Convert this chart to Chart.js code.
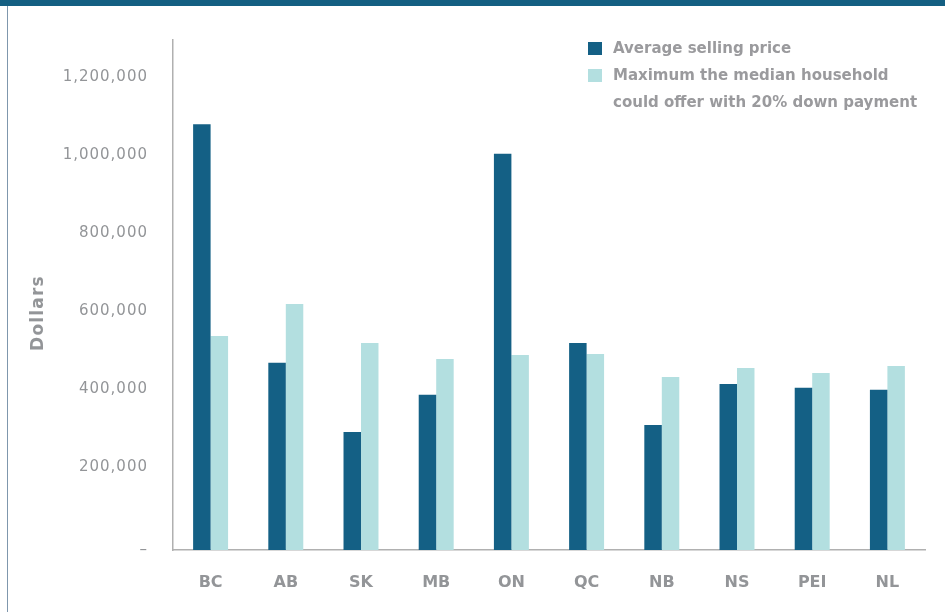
<!DOCTYPE html>
<html>
<head>
<meta charset="utf-8">
<script src="https://cdn.jsdelivr.net/npm/chart.js@4.4.1/dist/chart.umd.min.js"></script>
<style>
  html, body { margin: 0; padding: 0; background: #fff; }
  #wrap { position: relative; width: 945px; height: 612px; overflow: hidden; }
  #topBand { position: absolute; left: 0; top: 0; width: 945px; height: 6px; background: #145f82; }
  #leftRule { position: absolute; left: 7px; top: 6px; width: 1px; height: 606px; background: #7f97ad; }
  #chart { position: absolute; left: 0; top: 0; }
  #legend {
    position: absolute; left: 588px; top: 35px;
    font: bold 15px "DejaVu Sans", sans-serif; color: #9a9a9d; line-height: 27px;
  }
  .item { position: relative; padding-left: 25px; }
  .swatch { position: absolute; left: 0; top: 7px; width: 14px; height: 13px; }
</style>
</head>
<body>
<div id="wrap">
  <div id="topBand"></div>
  <div id="leftRule"></div>
  <canvas id="chart" width="945" height="612"></canvas>
  <div id="legend"></div>
</div>
<script>
const provinces = ['BC', 'AB', 'SK', 'MB', 'ON', 'QC', 'NB', 'NS', 'PEI', 'NL'];
const averageSellingPrice = [1079000, 467000, 290000, 385000, 1003000, 518000, 308000, 413000, 403000, 398000];
const maxMedianOffer = [536000, 618000, 518000, 477000, 487000, 490000, 431000, 454000, 441000, 459000];
const seriesLabels = [
    ['Average selling price'],
    ['Maximum the median household', 'could offer with 20% down payment'],
];
const tickValues = [0, 200000, 400000, 600000, 800000, 1000000, 1200000];

// axis runs a little below zero so the baseline sits under the "–" label
const Y_MIN = -12820;
const Y_MAX = 1294900;

const darkBlue = '#146085';
const paleTeal = '#b3dfe0';
const textGrey = '#939598';

const numberFormat = (value) => value.toLocaleString('en-US');

const spacedTicks = {
    id: 'spacedTicks',
    beforeDraw: (chart) => { chart.ctx.letterSpacing = '1px'; },
    beforeDatasetsDraw: (chart) => { chart.ctx.letterSpacing = '0px'; },
};

const sideTitle = {
    id: 'sideTitle',
    afterDraw: (chart) => {
        const ctx = chart.ctx;
        ctx.save();
        ctx.letterSpacing = '1.2px';
        ctx.translate(39, 313);
        ctx.rotate(-Math.PI / 2);
        ctx.font = 'bold 17px "DejaVu Sans"';
        ctx.fillStyle = textGrey;
        ctx.textAlign = 'center';
        ctx.textBaseline = 'middle';
        ctx.fillText('Dollars', 0, 0);
        ctx.restore();
    }
};

const ctx = document.getElementById('chart').getContext('2d');

var myChart = new Chart(ctx, {
    type: 'bar',
    data: {
        labels: provinces,
        datasets: [
            {
                label: seriesLabels[0].join(' '),
                data: averageSellingPrice,
                backgroundColor: darkBlue,
                base: Y_MIN,
            },
            {
                label: seriesLabels[1].join(' '),
                data: maxMedianOffer,
                backgroundColor: paleTeal,
                base: Y_MIN,
            },
        ]
    },
    options: {
        responsive: false,
        animation: false,
        devicePixelRatio: 1,
        categoryPercentage: 0.465,
        barPercentage: 1,
        layout: { padding: { top: 40, right: 20, left: 0, bottom: 0 } },
        scales: {
            x: {
                grid: { display: false, drawTicks: false },
                border: { display: true, color: '#b0b0b0', width: 1.5 },
                ticks: {
                    z: 1,
                    padding: 23,
                    color: textGrey,
                    font: { family: 'DejaVu Sans', size: 16, weight: 'bold' },
                },
                afterFit: (scale) => { scale.height = 62; },
            },
            y: {
                min: Y_MIN,
                max: Y_MAX,
                grid: { display: false, drawTicks: false },
                border: { display: true, color: '#b0b0b0', width: 1.5 },
                afterBuildTicks: (scale) => {
                    scale.ticks = tickValues.map((value, i) => ({ value: i === 0 ? Y_MIN : value }));
                },
                ticks: {
                    padding: 25,
                    color: textGrey,
                    font: { family: 'DejaVu Sans', size: 15 },
                    callback: (value) => value <= 0 ? '\u2013' : numberFormat(value),
                },
                afterFit: (scale) => { scale.width = 173; },
            }
        },
        plugins: {
            legend: { display: false },
            tooltip: { enabled: false },
        }
    },
    plugins: [spacedTicks, sideTitle]
});

// legend as html, taken from the datasets
const legendBox = document.getElementById('legend');
myChart.data.datasets.forEach((dataset, i) => {
    const item = document.createElement('div');
    item.className = 'item';
    const swatch = document.createElement('span');
    swatch.className = 'swatch';
    swatch.style.background = dataset.backgroundColor;
    item.appendChild(swatch);
    seriesLabels[i].forEach((line) => {
        const row = document.createElement('div');
        row.textContent = line;
        item.appendChild(row);
    });
    legendBox.appendChild(item);
});
</script>
</body>
</html>
